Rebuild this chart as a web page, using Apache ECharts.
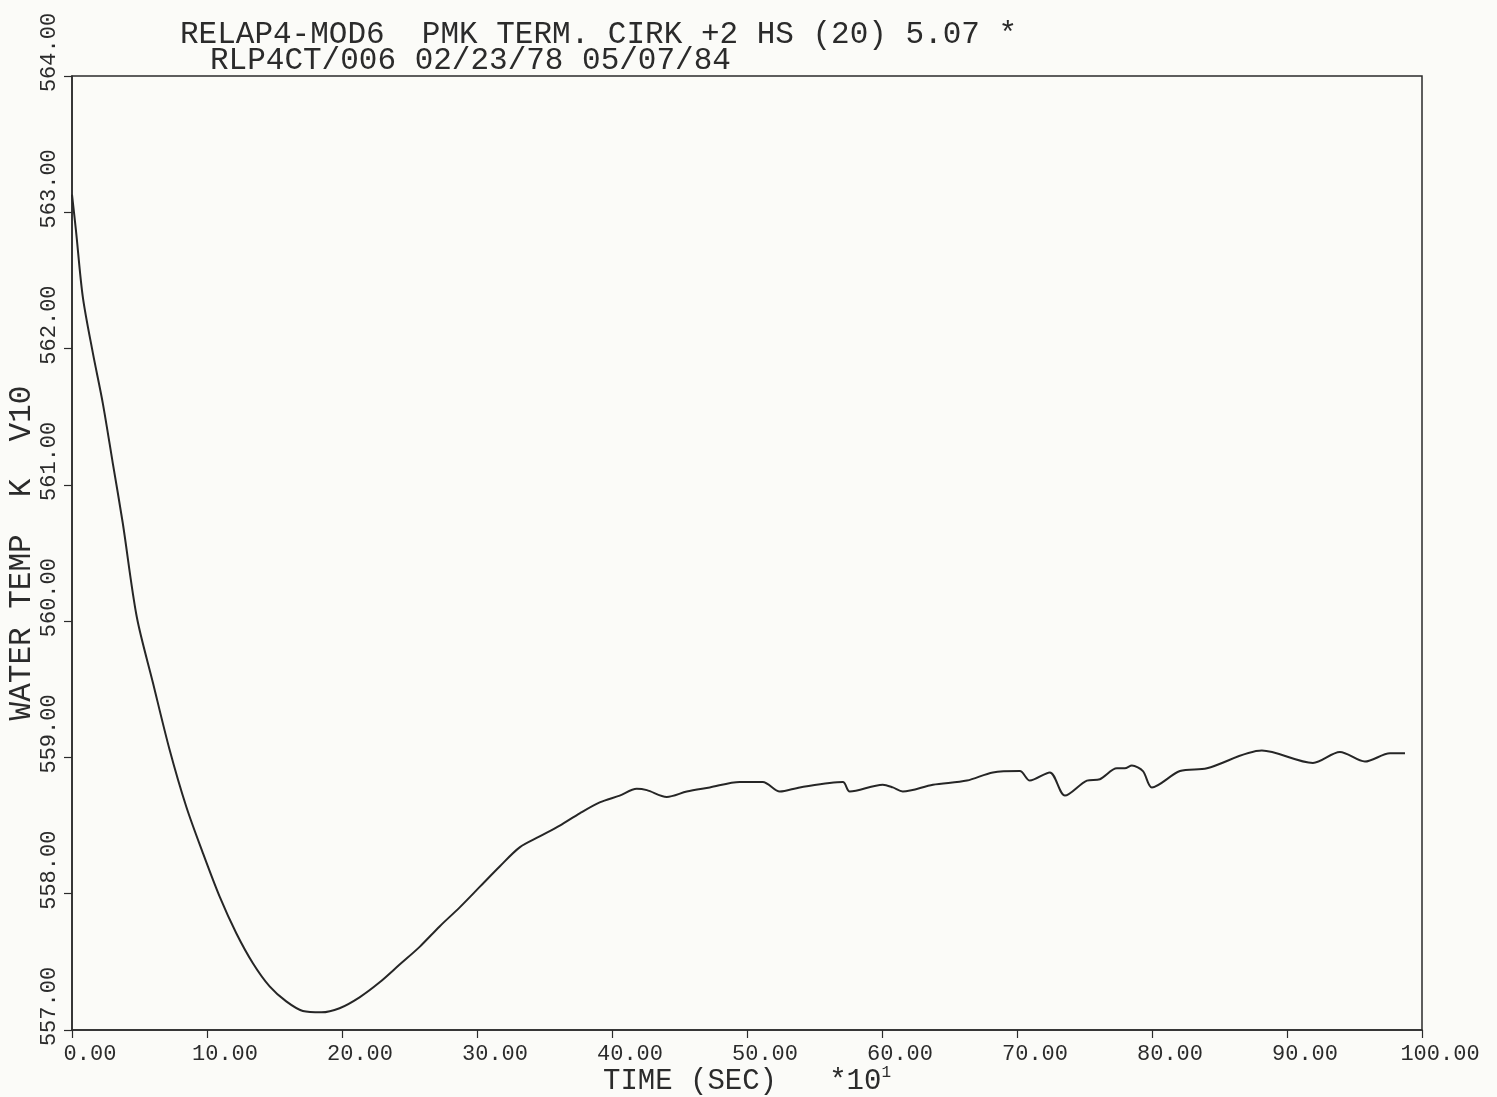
<!DOCTYPE html>
<html>
<head>
<meta charset="utf-8">
<script src="https://cdn.jsdelivr.net/npm/echarts@6/dist/echarts.min.js"></script>
<style>
html,body{margin:0;padding:0;background:#fbfbf8;}
#chart{width:1497px;height:1097px;}
</style>
</head>
<body>
<div id="chart"></div>
<script>
// ---- data ----
const titleLine1 = 'RELAP4-MOD6  PMK TERM. CIRK +2 HS (20) 5.07 *';
const titleLine2 = 'RLP4CT/006 02/23/78 05/07/84';
const xAxisTitle = 'TIME (SEC)   *10';
const xAxisExponent = '1';
const yAxisTitle = 'WATER TEMP  K  V10';

const xTickValues = [0, 10, 20, 30, 40, 50, 60, 70, 80, 90, 100];
const yTickValues = [557, 558, 559, 560, 561, 562, 563, 564];

const time = [0, 0.30, 0.80, 1.54, 2.28, 3.02, 3.76, 4.80, 5.99, 7.22, 8.46, 9.69,
  10.93, 12.17, 13.40, 14.64, 15.87, 17.10, 18.47, 19.82, 21.30, 22.79, 24.27, 25.75,
  27.23, 28.72, 30.20, 31.68, 33.16, 34.64, 36.13, 37.61, 39.09, 40.57, 41.83, 42.58,
  44.06, 45.54, 47.24, 49.46, 51.17, 52.43, 53.91, 57.10, 57.61, 60.06, 60.80, 61.54,
  63.77, 66.29, 68.21, 70.21, 70.95, 72.43, 73.55, 75.18, 76.14, 77.40, 77.99, 78.51,
  79.33, 79.99, 82.07, 84.07, 88.14, 91.92, 93.92, 95.77, 97.63, 98.74];

const waterTemp = [563.13, 562.86, 562.38, 561.97, 561.60, 561.16, 560.72, 560.03, 559.55, 559.06, 558.64, 558.30,
  557.98, 557.71, 557.49, 557.32, 557.21, 557.14, 557.13, 557.16, 557.24, 557.35, 557.48, 557.61,
  557.76, 557.90, 558.05, 558.20, 558.34, 558.42, 558.50, 558.59, 558.67, 558.72, 558.77, 558.76,
  558.71, 558.75, 558.78, 558.82, 558.82, 558.75, 558.78, 558.82, 558.75, 558.80, 558.78, 558.75,
  558.80, 558.83, 558.89, 558.90, 558.83, 558.89, 558.72, 558.83, 558.84, 558.92, 558.92, 558.94,
  558.90, 558.78, 558.90, 558.92, 559.05, 558.96, 559.04, 558.97, 559.03, 559.03];

// ---- chart ----
const FONT = '"Liberation Mono", "DejaVu Sans Mono", monospace';
const INK = '#2b2b2b';
const seriesData = time.map((t, i) => [t, waterTemp[i]]);

const chart = echarts.init(document.getElementById('chart'), null, {renderer: 'canvas'});
chart.setOption({
  backgroundColor: '#fbfbf8',
  animation: false,
  title: [
    {text: titleLine1, left: 175, top: 14,
     textStyle: {fontFamily: FONT, fontSize: 31, fontWeight: 'normal', color: INK, lineHeight: 31}},
    {text: titleLine2, left: 205, top: 40,
     textStyle: {fontFamily: FONT, fontSize: 31, fontWeight: 'normal', color: INK, lineHeight: 31}}
  ],
  grid: {
    left: 72, right: 75, top: 76, bottom: 67,
    show: true, borderColor: INK, borderWidth: 1.5,
    containLabel: false, outerBoundsMode: 'none'
  },
  xAxis: {
    type: 'value',
    min: xTickValues[0], max: xTickValues[xTickValues.length - 1], interval: 10,
    name: '{a|' + xAxisTitle + '}{s|' + xAxisExponent + '}',
    nameLocation: 'middle', nameGap: 35, nameMoveOverlap: false,
    nameTextStyle: {
      rich: {
        a: {fontFamily: FONT, fontSize: 29, color: INK, lineHeight: 32},
        s: {fontFamily: FONT, fontSize: 16, color: INK, verticalAlign: 'top', lineHeight: 26}
      }
    },
    splitLine: {show: false},
    axisLine: {show: true, lineStyle: {color: INK, width: 1.5}},
    axisTick: {show: true, inside: false, length: 8, lineStyle: {color: INK, width: 1.2}},
    axisLabel: {
      fontFamily: FONT, fontSize: 22, color: INK, margin: 13,
      align: 'center', padding: [0, 0, 0, 36],
      formatter: v => v.toFixed(2)
    }
  },
  yAxis: {
    type: 'value',
    min: yTickValues[0], max: yTickValues[yTickValues.length - 1], interval: 1,
    name: yAxisTitle,
    nameLocation: 'middle', nameGap: 35, nameMoveOverlap: false,
    nameRotate: 90,
    nameTextStyle: {fontFamily: FONT, fontSize: 31, color: INK},
    splitLine: {show: false},
    axisLine: {show: true, lineStyle: {color: INK, width: 1.5}},
    axisTick: {show: true, inside: false, length: 8, lineStyle: {color: INK, width: 1.2}},
    axisLabel: {
      fontFamily: FONT, fontSize: 22, color: INK, margin: 12,
      rotate: 90, align: 'center', verticalAlign: 'bottom', padding: [0, 0, 0, 47],
      formatter: v => v.toFixed(2)
    }
  },
  series: [{
    type: 'line',
    data: seriesData,
    showSymbol: false,
    smooth: 0.3,
    lineStyle: {color: '#262626', width: 2},
    silent: true
  }]
});
</script>
</body>
</html>
